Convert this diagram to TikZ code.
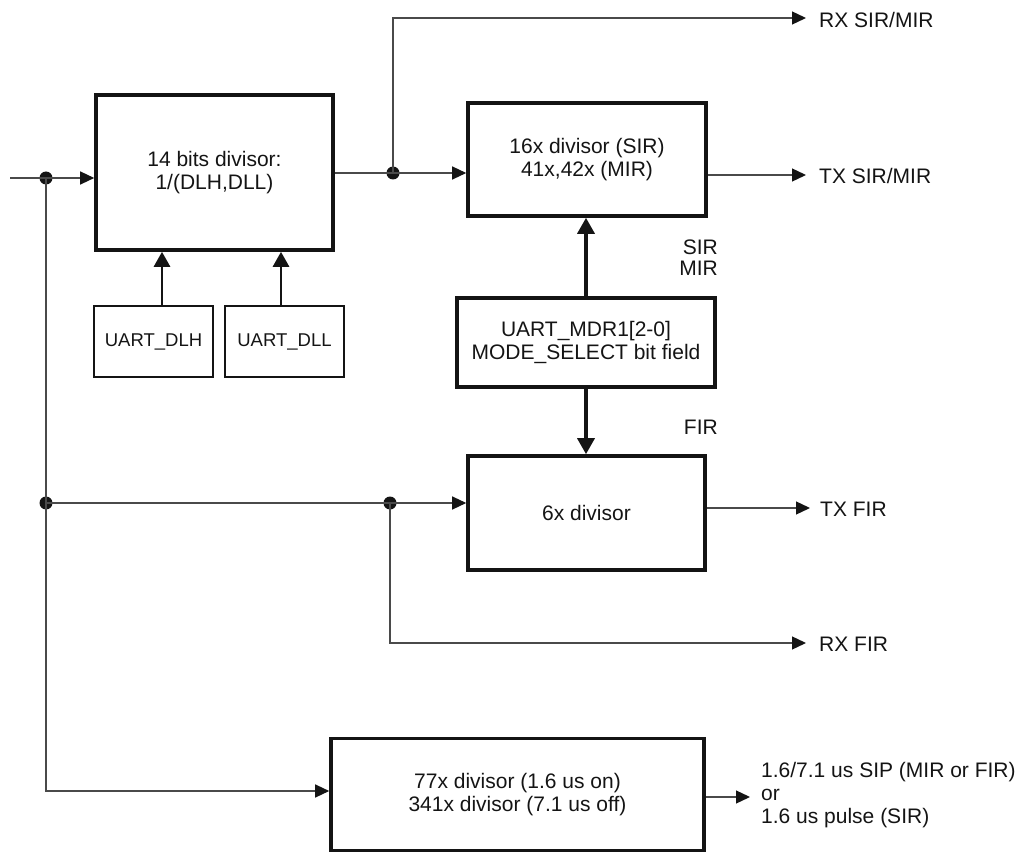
\documentclass[tikz,border=0pt]{standalone}
\usepackage{fontspec}
\setmainfont{Liberation Sans}
\usetikzlibrary{arrows.meta}
\definecolor{ink}{HTML}{141414}
\definecolor{wire}{HTML}{4A4A4A}
\begin{document}
\begin{tikzpicture}[x=1pt,y=-1pt,
  every node/.style={font=\fontsize{21}{23.5}\selectfont, text=ink},
  blk/.style={draw=ink, line width=3.6pt, inner sep=0pt, align=center},
  sblk/.style={draw=ink, line width=2.8pt, inner sep=0pt, align=center, font=\fontsize{18.5}{22}\selectfont},
  wire/.style={draw=wire, line width=1.3pt},
  arr/.style={wire, -{Triangle[length=14pt,width=13pt,color=ink]}},
  tarr/.style={draw=ink, line width=3.4pt, -{Triangle[length=16pt,width=17pt,color=ink]}},
  marr/.style={draw=ink, line width=2.8pt, -{Triangle[length=15pt,width=16pt,color=ink]}},
  lbl/.style={inner sep=0pt, anchor=west},
  dot/.style={circle, fill=ink, inner sep=0pt, minimum size=13pt}]
\useasboundingbox (0,0) rectangle (1026,853);

% blocks
\node[blk, minimum width=237pt, minimum height=155pt] (div14) at (214.5,172.5) {14 bits divisor:\\1/(DLH,DLL)};
\node[blk, minimum width=238pt, minimum height=113pt] (div16) at (587,159.5) {16x divisor (SIR)\\41x,42x (MIR)};
\node[blk, minimum width=258pt, minimum height=89pt] (mode) at (586,342.5) {UART\_MDR1[2-0]\\MODE\_SELECT bit field};
\node[blk, minimum width=237pt, minimum height=114pt] (div6) at (586.5,513) {6x divisor};
\node[blk, minimum width=373pt, minimum height=112pt] (div77) at (517.5,794.5) {77x divisor (1.6 us on)\\341x divisor (7.1 us off)};
\node[sblk, minimum width=119pt, minimum height=71pt] (dlh) at (153.5,341.5) {UART\_DLH};
\node[sblk, minimum width=119pt, minimum height=71pt] (dll) at (284.5,341.5) {UART\_DLL};

% junction dots
\node[dot] (d1) at (46,178) {};
\node[dot] (d2) at (393,173) {};
\node[dot] (d3) at (46,503) {};
\node[dot] (d4) at (390,503) {};

% free ends and corners
\coordinate (in) at (10,178);
\coordinate (c1) at (393,18);
\coordinate (rxsm) at (806,18);
\coordinate (txsm) at (806,175);
\coordinate (txf) at (810,508);
\coordinate (c2) at (390,643);
\coordinate (rxf) at (806,643);
\coordinate (c3) at (46,791);
\coordinate (pout) at (750,797);
\coordinate (ah) at (162,0);
\coordinate (al) at (281,0);

% input and main chain
\draw[wire] (in) -- (d1.center);
\draw[arr] (d1.center) -- (d1 -| div14.west);
\draw[wire] (d2 -| div14.east) -- (d2.center);
\draw[arr] (d2.center) -- (d2 -| div16.west);
\draw[arr] (d2.center) -- (c1) -- (rxsm);
\draw[arr] (txsm -| div16.east) -- (txsm);

% register inputs
\draw[marr] (dlh.north -| ah) -- (div14.south -| ah);
\draw[marr] (dll.north -| al) -- (div14.south -| al);

% mode select
\draw[tarr] (mode.north) -- (mode.north |- div16.south);
\draw[tarr] (mode.south) -- (mode.south |- div6.north);

% lower branches
\draw[wire] (d1.center) -- (d3.center);
\draw[arr] (d3.center) -- (c3) -- (c3 -| div77.west);
\draw[wire] (d3.center) -- (d4.center);
\draw[arr] (d4.center) -- (d4 -| div6.west);
\draw[arr] (d4.center) -- (c2) -- (rxf);
\draw[arr] (txf -| div6.east) -- (txf);
\draw[arr] (pout -| div77.east) -- (pout);

% labels
\node[lbl] at (819,20) {RX SIR/MIR};
\node[lbl] at (819,176) {TX SIR/MIR};
\node[lbl] at (820,509) {TX FIR};
\node[lbl] at (819,644) {RX FIR};
\node[inner sep=0pt, anchor=east, align=right, font=\fontsize{21}{21}\selectfont] at (718,258) {SIR\\MIR};
\node[inner sep=0pt, anchor=east] at (718,427) {FIR};
\node[inner sep=0pt, anchor=west, align=left, font=\fontsize{21}{23}\selectfont] at (761,795) {1.6/7.1 us SIP (MIR or FIR)\\or\\1.6 us pulse (SIR)};
\end{tikzpicture}
\end{document}
